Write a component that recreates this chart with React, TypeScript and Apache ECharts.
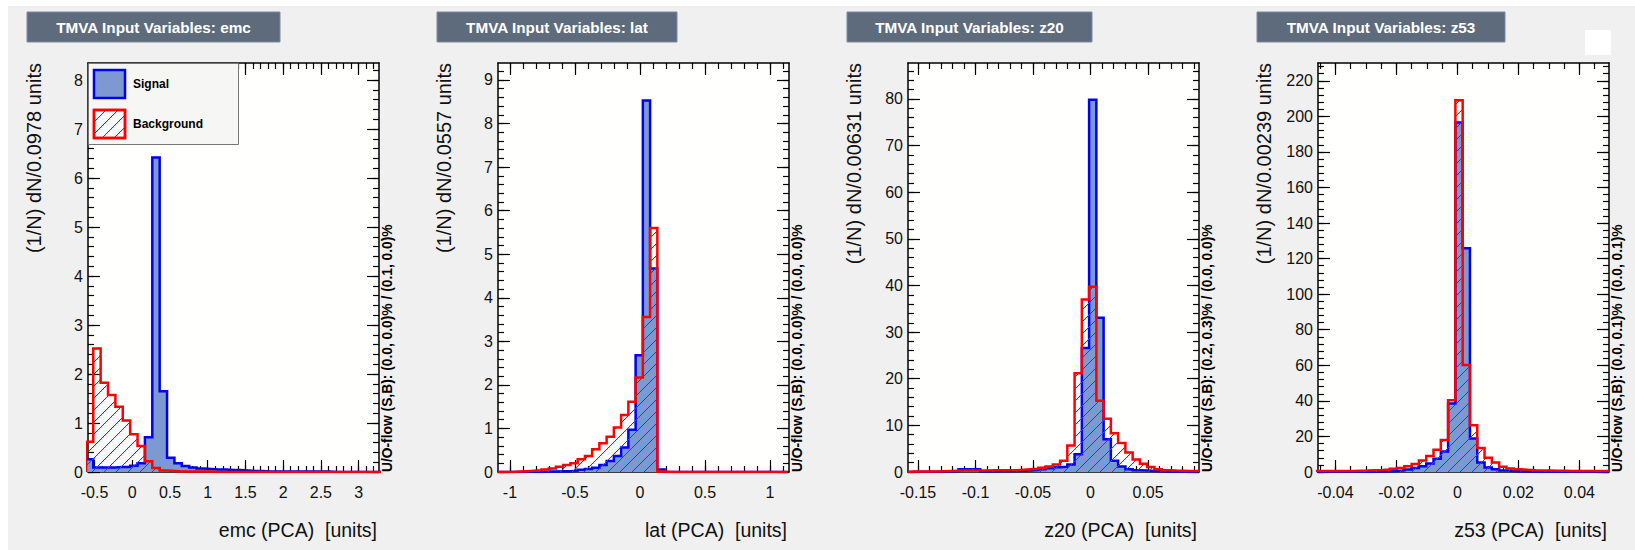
import React, { useEffect, useRef } from "react";
import * as echarts from "echarts";

// ---------------- data ----------------
const variableNames = ["emc", "lat", "z20", "z53"];
const binWidths = [0.0978, 0.0557, 0.00631, 0.00239];
const binStarts = [-0.615, -1.092, -0.159, -0.04607];
const xMins = [-0.587, -1.092, -0.1587, -0.0457];
const xMaxs = [3.27, 1.146, 0.0943, 0.0497];
const yMaxs = [8.35, 9.39, 87.7, 230];

const xMajorTicks = [
  [-0.5, 0, 0.5, 1, 1.5, 2, 2.5, 3],
  [-1, -0.5, 0, 0.5, 1],
  [-0.15, -0.1, -0.05, 0, 0.05],
  [-0.04, -0.02, 0, 0.02, 0.04],
];
const xMinorSteps = [0.1, 0.1, 0.01, 0.005];
const yMajorTicks = [
  [0, 1, 2, 3, 4, 5, 6, 7, 8],
  [0, 1, 2, 3, 4, 5, 6, 7, 8, 9],
  [0, 10, 20, 30, 40, 50, 60, 70, 80],
  [0, 20, 40, 60, 80, 100, 120, 140, 160, 180, 200, 220],
];
const yMinorSteps = [0.2, 0.2, 2, 4];

const yTitles = [
  "(1/N) dN/0.0978 units",
  "(1/N) dN/0.0557 units",
  "(1/N) dN/0.00631 units",
  "(1/N) dN/0.00239 units",
];
const overflowTexts = [
  "U/O-flow (S,B): (0.0, 0.0)% / (0.1, 0.0)%",
  "U/O-flow (S,B): (0.0, 0.0)% / (0.0, 0.0)%",
  "U/O-flow (S,B): (0.2, 0.3)% / (0.0, 0.0)%",
  "U/O-flow (S,B): (0.0, 0.1)% / (0.0, 0.1)%",
];

const signalEmc = [
  0.26, 0.09, 0.09, 0.09, 0.1, 0.1, 0.13, 0.18, 0.71, 6.42,
  1.65, 0.29, 0.18, 0.12, 0.09, 0.07, 0.06, 0.05, 0.05, 0.04,
  0.04, 0.03, 0.02, 0.02, 0.01, 0.01, 0.01, 0.01, 0.01, 0.01,
  0.01, 0.01, 0.01, 0, 0, 0, 0, 0, 0, 0,
];
const backgroundEmc = [
  0.62, 2.52, 1.82, 1.57, 1.33, 1.05, 0.77, 0.53, 0.22, 0.08,
  0.03, 0.02, 0.01, 0.01, 0.01, 0.01, 0.01, 0, 0, 0,
  0, 0, 0, 0, 0, 0, 0, 0, 0, 0,
  0, 0, 0, 0, 0, 0, 0, 0, 0, 0,
];
const signalLat = [
  0, 0, 0, 0, 0, 0, 0.01, 0.01, 0.02, 0.02,
  0.03, 0.05, 0.07, 0.1, 0.16, 0.25, 0.37, 0.56, 0.97, 2.68,
  8.53, 4.67, 0.06, 0, 0, 0, 0, 0, 0, 0,
  0, 0, 0, 0, 0, 0, 0, 0, 0, 0,
];
const backgroundLat = [
  0, 0, 0.01, 0.02, 0.03, 0.04, 0.06, 0.08, 0.12, 0.16,
  0.2, 0.29, 0.37, 0.52, 0.66, 0.81, 1.02, 1.31, 1.61, 2.17,
  3.56, 5.6, 0.01, 0, 0, 0, 0, 0, 0, 0,
  0, 0, 0, 0, 0, 0, 0, 0, 0, 0,
];
const signalZ20 = [
  0.05, 0.05, 0.05, 0.05, 0.1, 0.1, 0.2, 0.6, 0.6, 0.6,
  0.15, 0.15, 0.2, 0.2, 0.2, 0.25, 0.3, 0.4, 0.6, 0.8,
  1.0, 1.1, 1.6, 3.8, 26.6, 79.8, 33.1, 7.0, 2.4, 1.2,
  0.6, 0.4, 0.3, 0.2, 0.15, 0.1, 0.1, 0.05, 0.05, 0.05,
];
const backgroundZ20 = [
  0.1, 0.1, 0.1, 0.1, 0.15, 0.2, 0.25, 0.3, 0.3, 0.3,
  0.3, 0.35, 0.35, 0.4, 0.4, 0.5, 0.6, 0.7, 0.9, 1.2,
  1.6, 2.4, 5.7, 21.2, 37.0, 39.7, 15.3, 11.4, 8.3, 6.2,
  4.2, 2.7, 1.75, 1.05, 0.6, 0.4, 0.3, 0.25, 0.2, 0.2,
];
const signalZ53 = [
  0.1, 0.1, 0.1, 0.1, 0.15, 0.15, 0.2, 0.25, 0.3, 0.4,
  0.6, 0.9, 1.4, 2.2, 3.2, 4.8, 7.5, 11.5, 38.5, 196.5,
  125.8, 18.9, 5.3, 2.6, 1.5, 0.9, 0.6, 0.4, 0.3, 0.25,
  0.2, 0.15, 0.1, 0.1, 0.1, 0.05, 0.05, 0.05, 0.05, 0.05,
];
const backgroundZ53 = [
  0.5, 0.5, 0.5, 0.6, 0.6, 0.7, 0.8, 1.0, 1.1, 1.4,
  1.8, 2.3, 3.2, 4.5, 6.5, 9.0, 12.5, 18.0, 40.4, 209,
  60.2, 26.3, 13.5, 8.0, 5.3, 3.0, 2.0, 1.5, 1.2, 1.0,
  0.9, 0.8, 0.7, 0.7, 0.6, 0.6, 0.5, 0.5, 0.5, 0.5,
];

const signals = [signalEmc, signalLat, signalZ20, signalZ53];
const backgrounds = [backgroundEmc, backgroundLat, backgroundZ20, backgroundZ53];

// ---------------- layout & style ----------------
const FONT = "'Liberation Sans', Arial, Helvetica, sans-serif";
const FRAME_LEFTS = [88, 498, 908, 1318];
const FRAME_TOP = 63;
const FRAME_W = 291;
const FRAME_H = 409;
const TITLE_WIDTHS = [253, 240, 245, 248];

const SIG_LINE = "#0000ee";
const SIG_FILL = "#7d99d1";
const BKG_LINE = "#ff0000";

const HATCH = 12;
const hatchSvg =
  `<svg xmlns="http://www.w3.org/2000/svg" width="${HATCH}" height="${HATCH}">` +
  `<path d="M-1,${HATCH + 1} L${HATCH + 1},-1 M-1,1 L1,-1 M${HATCH - 1},${HATCH + 1} L${HATCH + 1},${HATCH - 1}" stroke="#ff0000" stroke-width="1" fill="none"/></svg>`;
const hatchPattern: any = {
  image: "data:image/svg+xml;charset=utf-8," + encodeURIComponent(hatchSvg),
  repeat: "repeat",
  imageWidth: HATCH,
  imageHeight: HATCH,
};

function ticksFrom(min: number, max: number, step: number): number[] {
  const out: number[] = [];
  const k0 = Math.ceil(min / step - 1e-9);
  const k1 = Math.floor(max / step + 1e-9);
  for (let k = k0; k <= k1; k++) out.push(Number((k * step).toFixed(10)));
  return out;
}

function histPoints(start: number, width: number, values: number[]) {
  const pts: number[][] = [[start, 0]];
  values.forEach((v, i) => pts.push([start + i * width, v]));
  const end = start + values.length * width;
  pts.push([end, values[values.length - 1]]);
  pts.push([end, 0]);
  return pts;
}

const fmt = (v: number) => String(Number(Number(v).toFixed(6)));
const tickLine = { color: "#000", width: 1.2 };
const frameLine = { color: "#000", width: 1.5 };

function buildOption() {
  const grids: any[] = [];
  const xAxes: any[] = [];
  const yAxes: any[] = [];
  const series: any[] = [];
  const elements: any[] = [];

  // white page margins (top/left) and the small white square top-right
  elements.push({ type: "rect", shape: { x: 0, y: 0, width: 1635, height: 6 }, style: { fill: "#ffffff" }, z: 100 });
  elements.push({ type: "rect", shape: { x: 0, y: 0, width: 8, height: 550 }, style: { fill: "#ffffff" }, z: 100 });
  elements.push({ type: "rect", shape: { x: 1585, y: 30, width: 26, height: 25 }, style: { fill: "#ffffff" }, z: 100 });

  for (let p = 0; p < 4; p++) {
    const left = FRAME_LEFTS[p];
    grids.push({
      left,
      top: FRAME_TOP,
      width: FRAME_W,
      height: FRAME_H,
      show: true,
      backgroundColor: "#fffffd",
      borderWidth: 0,
      containLabel: false,
      outerBoundsMode: "none",
    });

    const xb = { type: "value", gridIndex: p, min: xMins[p], max: xMaxs[p], splitLine: { show: false } };
    const xMinor = ticksFrom(xMins[p], xMaxs[p], xMinorSteps[p]);
    xAxes.push(
      {
        ...xb,
        position: "bottom",
        axisLine: { show: true, onZero: false, lineStyle: frameLine },
        axisTick: { show: true, inside: true, length: 12, customValues: xMajorTicks[p], lineStyle: tickLine },
        axisLabel: {
          show: true,
          customValues: xMajorTicks[p],
          margin: 12,
          fontSize: 16,
          color: "#111",
          fontFamily: FONT,
          formatter: fmt,
        },
      },
      {
        ...xb,
        position: "bottom",
        axisLine: { show: false, onZero: false },
        axisTick: { show: true, inside: true, length: 6, customValues: xMinor, lineStyle: tickLine },
        axisLabel: { show: false },
      },
      {
        ...xb,
        position: "top",
        axisLine: { show: true, onZero: false, lineStyle: frameLine },
        axisTick: { show: true, inside: true, length: 12, customValues: xMajorTicks[p], lineStyle: tickLine },
        axisLabel: { show: false },
      },
      {
        ...xb,
        position: "top",
        axisLine: { show: false, onZero: false },
        axisTick: { show: true, inside: true, length: 6, customValues: xMinor, lineStyle: tickLine },
        axisLabel: { show: false },
      }
    );

    const yb = { type: "value", gridIndex: p, min: 0, max: yMaxs[p], splitLine: { show: false } };
    const yMinor = ticksFrom(0, yMaxs[p], yMinorSteps[p]);
    yAxes.push(
      {
        ...yb,
        position: "left",
        axisLine: { show: true, onZero: false, lineStyle: frameLine },
        axisTick: { show: true, inside: true, length: 12, customValues: yMajorTicks[p], lineStyle: tickLine },
        axisLabel: {
          show: true,
          customValues: yMajorTicks[p],
          margin: 5,
          fontSize: 16,
          color: "#111",
          fontFamily: FONT,
          formatter: fmt,
        },
      },
      {
        ...yb,
        position: "left",
        axisLine: { show: false, onZero: false },
        axisTick: { show: true, inside: true, length: 6, customValues: yMinor, lineStyle: tickLine },
        axisLabel: { show: false },
      },
      {
        ...yb,
        position: "right",
        axisLine: { show: true, onZero: false, lineStyle: frameLine },
        axisTick: { show: true, inside: true, length: 12, customValues: yMajorTicks[p], lineStyle: tickLine },
        axisLabel: { show: false },
      },
      {
        ...yb,
        position: "right",
        axisLine: { show: false, onZero: false },
        axisTick: { show: true, inside: true, length: 6, customValues: yMinor, lineStyle: tickLine },
        axisLabel: { show: false },
      }
    );

    series.push(
      {
        name: "Signal",
        type: "line",
        xAxisIndex: 4 * p,
        yAxisIndex: 4 * p,
        data: histPoints(binStarts[p], binWidths[p], signals[p]),
        step: "end",
        symbol: "none",
        showSymbol: false,
        clip: true,
        silent: true,
        z: 2,
        itemStyle: { color: SIG_LINE },
        lineStyle: { color: SIG_LINE, width: 2.5, join: "miter", cap: "butt" },
        areaStyle: { color: SIG_FILL, opacity: 1, origin: "start" },
      },
      {
        name: "Background",
        type: "line",
        xAxisIndex: 4 * p,
        yAxisIndex: 4 * p,
        data: histPoints(binStarts[p], binWidths[p], backgrounds[p]),
        step: "end",
        symbol: "none",
        showSymbol: false,
        clip: true,
        silent: true,
        z: 3,
        itemStyle: { color: BKG_LINE },
        lineStyle: { color: BKG_LINE, width: 2.5, join: "miter", cap: "butt" },
        areaStyle: { color: hatchPattern, opacity: 1, origin: "start" },
      }
    );

    // title box
    const tl = left - 61;
    elements.push({
      type: "rect",
      shape: { x: tl, y: 12, width: TITLE_WIDTHS[p], height: 30 },
      style: { fill: "#5d6b7d", stroke: "#7d8b9d", lineWidth: 1 },
      z: 100,
    });
    elements.push({
      type: "text",
      x: tl + TITLE_WIDTHS[p] / 2,
      y: 27,
      z: 101,
      style: {
        text: "TMVA Input Variables: " + variableNames[p],
        fill: "#ffffff",
        fontSize: 15.3,
        fontWeight: "bold",
        fontFamily: FONT,
        align: "center",
        verticalAlign: "middle",
      },
    });
    // y title
    elements.push({
      type: "text",
      x: left - 54,
      y: FRAME_TOP,
      rotation: Math.PI / 2,
      z: 101,
      style: {
        text: yTitles[p],
        fill: "#111",
        fontSize: 20,
        fontFamily: FONT,
        align: "right",
        verticalAlign: "middle",
      },
    });
    // x title
    elements.push({
      type: "text",
      x: left + FRAME_W - 2,
      y: 530,
      z: 101,
      style: {
        text: variableNames[p] + " (PCA)  [units]",
        fill: "#111",
        fontSize: 19.5,
        fontFamily: FONT,
        align: "right",
        verticalAlign: "middle",
      },
    });
    // overflow text
    elements.push({
      type: "text",
      x: left + FRAME_W + 8,
      y: FRAME_TOP + FRAME_H,
      rotation: Math.PI / 2,
      z: 101,
      style: {
        text: overflowTexts[p],
        fill: "#000",
        fontSize: 13.8,
        fontWeight: "bold",
        fontFamily: FONT,
        align: "left",
        verticalAlign: "middle",
      },
    });
  }

  // legend (panel 1)
  elements.push({
    type: "rect",
    shape: { x: 88.5, y: 63.5, width: 150, height: 81 },
    style: { fill: "#f6f6f4", stroke: "#777", lineWidth: 1 },
    z: 100,
  });
  elements.push({
    type: "rect",
    shape: { x: 94, y: 70, width: 31, height: 28 },
    style: { fill: SIG_FILL, stroke: SIG_LINE, lineWidth: 2.5 },
    z: 101,
  });
  elements.push({
    type: "rect",
    shape: { x: 94, y: 110, width: 31, height: 28 },
    style: { fill: "#ffffff", stroke: BKG_LINE, lineWidth: 2.5 },
    z: 101,
  });
  elements.push({
    type: "rect",
    shape: { x: 94, y: 110, width: 31, height: 28 },
    style: { fill: hatchPattern, stroke: BKG_LINE, lineWidth: 2.5 },
    z: 102,
  });
  elements.push({
    type: "text",
    x: 133,
    y: 84,
    z: 102,
    style: { text: "Signal", fill: "#000", fontSize: 12, fontWeight: "bold", fontFamily: FONT, align: "left", verticalAlign: "middle" },
  });
  elements.push({
    type: "text",
    x: 133,
    y: 124,
    z: 102,
    style: { text: "Background", fill: "#000", fontSize: 12, fontWeight: "bold", fontFamily: FONT, align: "left", verticalAlign: "middle" },
  });

  return {
    animation: false,
    backgroundColor: "#f0f0f0",
    grid: grids,
    xAxis: xAxes,
    yAxis: yAxes,
    series,
    graphic: { elements },
  };
}

export default function App() {
  const ref = useRef<HTMLDivElement>(null);
  useEffect(() => {
    if (!ref.current) return;
    const chart = echarts.init(ref.current, undefined, { renderer: "svg" });
    chart.setOption(buildOption() as any);
    return () => {
      chart.dispose();
    };
  }, []);
  return (
    <div
      ref={ref}
      style={{ position: "absolute", left: 0, top: 0, width: 1635, height: 550 }}
    />
  );
}
